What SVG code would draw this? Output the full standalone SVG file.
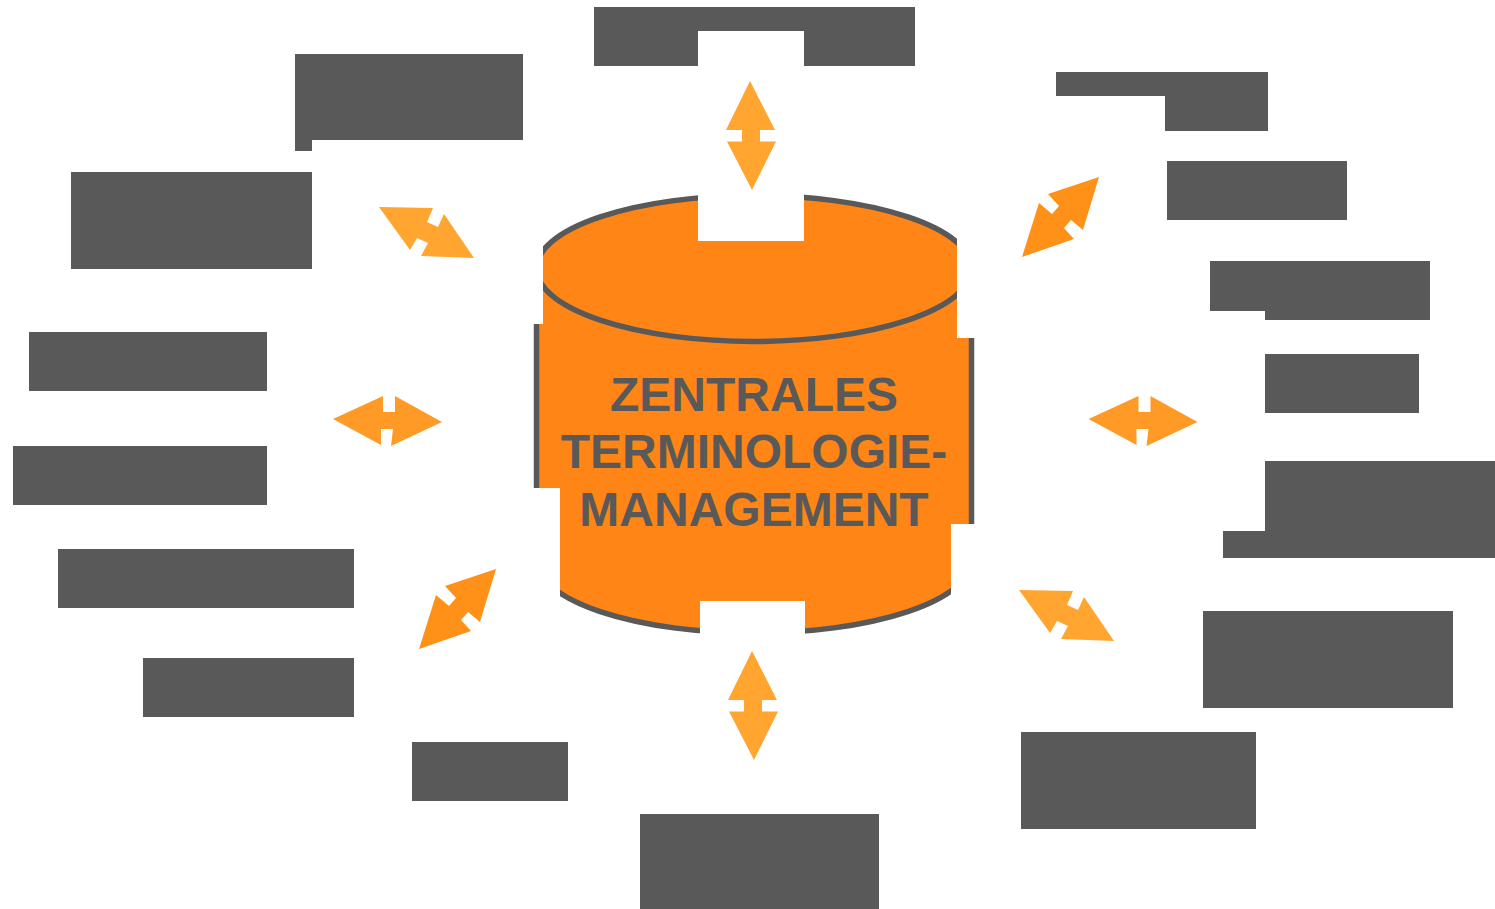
<svg xmlns="http://www.w3.org/2000/svg" width="1495" height="909" viewBox="0 0 1495 909">
<style>
.label{fill:#595959}
.light{fill:#FFA530}
.mid{fill:#FF9A26}
.deep{fill:#FF9119}
.cyl{fill:#FF8517;stroke:#595959;stroke-width:5.500}
.title{font-family:"Liberation Sans",Arial,sans-serif;font-weight:700;font-size:48px;fill:#595959;text-anchor:middle}
</style>
<defs>
<clipPath id="cylClip"><polygon points="543,190 698,190 698,241 804,241 804,190 957,190 957,338 980,338 980,524 951,524 951,640 805,640 805,601 700,601 700,640 560,640 560,488 530,488 530,324 543,324"/></clipPath>
<polygon id="vArrow" points="750,81 775,130 760,130 760,141.500 776,141.500 752,190 727,141.500 742,141.500 742,130 726,130"/>
<polygon id="hArrow" points="333,419 383,396 383,412 395,412 395,396 442,422 391,446 393,429 381,429 381,445"/>
<polygon id="dArrowA" points="379,207 433,208 427,222 438,227 444,214 474,258 421,256 428,243 417,238 410,250"/>
<polygon id="dArrowB" points="1099,177 1083,230 1071,220 1064,228 1074,239 1022,257 1039,203 1052,214 1059,206 1048,194"/>
</defs>
<rect width="1495" height="909" fill="#fff"/>
<g id="connectors">
<use href="#vArrow" class="light"/>
<use href="#vArrow" class="light" transform="translate(2,570)"/>
<use href="#hArrow" class="mid"/>
<use href="#hArrow" class="mid" transform="translate(755.500,0)"/>
<use href="#dArrowA" class="light"/>
<use href="#dArrowA" class="light" transform="translate(640,383)"/>
<use href="#dArrowB" class="deep"/>
<use href="#dArrowB" class="deep" transform="translate(-603,392)"/>
</g>
<g id="central">
<g clip-path="url(#cylClip)">
<path class="cyl" d="M536.500,268.500 A217.500,73 0 0 1 971.500,268.500 V560 A217.500,73 0 0 1 536.500,560 Z"/>
<path class="cyl" d="M536.500,268.500 A217.500,73 0 0 0 971.500,268.500"/>
</g>
<text class="title" x="754" y="410.500">ZENTRALES</text>
<text class="title" x="754" y="468">TERMINOLOGIE-</text>
<text class="title" x="754" y="525.500">MANAGEMENT</text>
</g>
<g id="node-1"><polygon class="label" points="594,7 915,7 915,66 804,66 804,31 698,31 698,66 594,66"/></g>
<g id="node-2"><polygon class="label" points="295,54 523,54 523,140 312,140 312,151 295,151"/></g>
<g id="node-3"><rect class="label" x="71" y="172" width="241" height="97"/></g>
<g id="node-4"><rect class="label" x="29" y="332" width="238" height="59"/></g>
<g id="node-5"><rect class="label" x="13" y="446" width="254" height="59"/></g>
<g id="node-6"><rect class="label" x="58" y="549" width="296" height="59"/></g>
<g id="node-7"><rect class="label" x="143" y="658" width="211" height="59"/></g>
<g id="node-8"><rect class="label" x="412" y="742" width="156" height="59"/></g>
<g id="node-9"><rect class="label" x="640" y="814" width="239" height="95"/></g>
<g id="node-10"><rect class="label" x="1021" y="732" width="235" height="97"/></g>
<g id="node-11"><rect class="label" x="1203" y="611" width="250" height="97"/></g>
<g id="node-12"><polygon class="label" points="1265,461 1495,461 1495,558 1223,558 1223,531 1265,531"/></g>
<g id="node-13"><rect class="label" x="1265" y="354" width="154" height="59"/></g>
<g id="node-14"><polygon class="label" points="1210,261 1430,261 1430,320 1265,320 1265,311 1210,311"/></g>
<g id="node-15"><rect class="label" x="1167" y="161" width="180" height="59"/></g>
<g id="node-16"><polygon class="label" points="1056,72 1268,72 1268,131 1165,131 1165,96 1056,96"/></g>
</svg>
